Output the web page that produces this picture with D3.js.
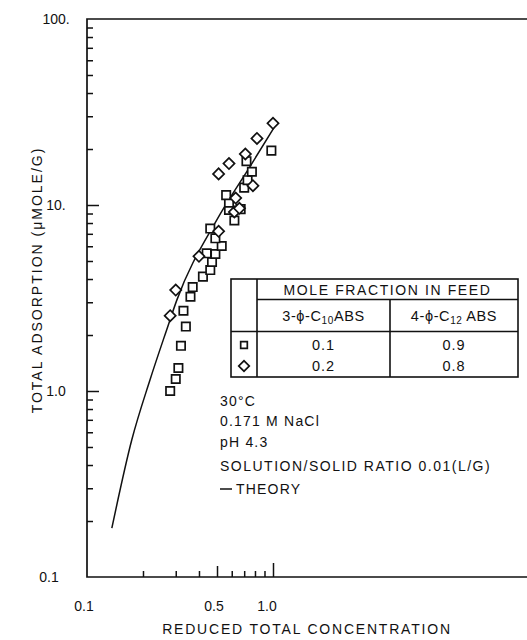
<!DOCTYPE html>
<html>
<head>
<meta charset="utf-8">
<script src="https://cdn.jsdelivr.net/npm/d3@7"></script>
<style>
  body { margin: 0; background: #fff; }
  text { font-family: "Liberation Sans", Arial, sans-serif; fill: #111; }
</style>
</head>
<body>
<div id="chart"></div>
<script>
// Data: [reduced total concentration, total adsorption]
const squares = [
  [0.28, 1.0], [0.30, 1.16], [0.31, 1.33], [0.32, 1.75], [0.34, 2.22],
  [0.33, 2.70], [0.36, 3.21], [0.37, 3.62], [0.42, 4.12], [0.46, 4.47],
  [0.47, 4.94], [0.44, 5.50], [0.49, 5.45], [0.53, 6.02], [0.49, 6.62],
  [0.46, 7.47], [0.62, 8.25], [0.58, 9.4], [0.67, 9.5], [0.58, 10.3],
  [0.56, 11.3], [0.70, 12.4], [0.73, 13.6], [0.77, 15.1], [0.72, 17.2],
  [0.98, 19.6]
];
const diamonds = [
  [0.28, 2.54], [0.30, 3.49], [0.40, 5.30], [0.51, 7.22], [0.62, 9.17],
  [0.66, 9.6], [0.63, 10.9], [0.78, 12.7], [0.51, 14.7], [0.58, 16.7],
  [0.71, 18.8], [0.82, 22.8], [1.0, 27.5]
];
const theory = [
  [0.136, 0.183], [0.174, 0.545], [0.218, 1.146], [0.268, 2.13],
  [0.304, 3.08], [0.498, 8.30], [0.752, 16.1], [1.05, 27.6]
];

const yMajor = [0.1, 1, 10, 100];
const yLabels = ["0.1", "1.0", "10.", "100."];
const xLabelValues = [0.1, 0.5, 1.0];
const xLabels = ["0.1", "0.5", "1.0"];
const xMinor = [0.2, 0.3, 0.4, 0.6, 0.7, 0.8, 0.9];

const legendHeader = "MOLE FRACTION IN FEED";
const legendRows = [["0.1", "0.9"], ["0.2", "0.8"]];
const notes = ["30°C", "0.171 M NaCl", "pH 4.3", "SOLUTION/SOLID RATIO 0.01(L/G)"];

const W = 527, H = 640;
const svg = d3.select("#chart").append("svg").attr("width", W).attr("height", H);

const x = d3.scaleLog().domain([0.1, 100]).range([87, 645]);
const y = d3.scaleLog().domain([0.1, 100]).range([577, 19]);

// frame (top, left, bottom)
svg.append("path")
  .attr("d", `M${W},${y(100)}H${x(0.1)}V${y(0.1)}H${W}`)
  .attr("fill", "none").attr("stroke", "#111").attr("stroke-width", 1.7);

// y ticks (inside)
const yMinor = [];
[0.1, 1, 10].forEach(d => { for (let k = 2; k <= 9; k++) yMinor.push(d * k); });
svg.append("g").attr("transform", `translate(${x(0.1)},0)`)
  .call(d3.axisRight(y).tickValues(yMinor).tickSize(6).tickFormat(""))
  .call(g => g.select(".domain").remove());
svg.append("g").attr("transform", `translate(${x(0.1)},0)`)
  .call(d3.axisRight(y).tickValues([1, 10]).tickSize(12).tickFormat(""))
  .call(g => g.select(".domain").remove());
svg.selectAll(".tick line").attr("stroke", "#111").attr("stroke-width", 1.5);

// x ticks (inside)
const xg = svg.append("g").attr("transform", `translate(0,${y(0.1)})`);
xg.append("g").call(d3.axisTop(x).tickValues(xMinor).tickSize(6).tickFormat(""));
xg.append("g").call(d3.axisTop(x).tickValues([0.5]).tickSize(11).tickFormat(""));
xg.append("g").call(d3.axisTop(x).tickValues([1.0]).tickSize(14).tickFormat(""));
xg.selectAll(".domain").remove();
xg.selectAll(".tick line").attr("stroke", "#111").attr("stroke-width", 1.5);

// tick labels
svg.selectAll(".ylab").data(yMajor).enter().append("text")
  .attr("x", (d, i) => i === 0 ? 49 : 56)
  .attr("y", d => y(d) + 5)
  .attr("text-anchor", "middle").attr("font-size", 14)
  .text((d, i) => yLabels[i]);
svg.selectAll(".xlab").data(xLabelValues).enter().append("text")
  .attr("x", (d, i) => x(d) - (i === 2 ? 6 : 3))
  .attr("y", 611)
  .attr("text-anchor", "middle").attr("font-size", 14)
  .text((d, i) => xLabels[i]);

// axis titles
svg.append("text")
  .attr("transform", `translate(42,280) rotate(-90)`)
  .attr("text-anchor", "middle").attr("font-size", 14).attr("letter-spacing", 2)
  .text("TOTAL ADSORPTION (μMOLE/G)");
svg.append("text")
  .attr("x", 307).attr("y", 634)
  .attr("text-anchor", "middle").attr("font-size", 14).attr("letter-spacing", 1.8)
  .text("REDUCED TOTAL CONCENTRATION");

// theory line
svg.append("path").datum(theory)
  .attr("d", d3.line().x(d => x(d[0])).y(d => y(d[1])).curve(d3.curveMonotoneX))
  .attr("fill", "none").attr("stroke", "#111").attr("stroke-width", 1.5);

// markers
const sq = d3.symbol().type(d3.symbolSquare).size(70);
const dm = d3.symbol().type(d3.symbolSquare).size(62);
svg.selectAll(".sq").data(squares).enter().append("path")
  .attr("d", sq)
  .attr("transform", d => `translate(${x(d[0])},${y(d[1])})`)
  .attr("fill", "#fff").attr("stroke", "#111").attr("stroke-width", 1.7);
svg.selectAll(".dm").data(diamonds).enter().append("path")
  .attr("d", dm)
  .attr("transform", d => `translate(${x(d[0])},${y(d[1])}) rotate(45)`)
  .attr("fill", "#fff").attr("stroke", "#111").attr("stroke-width", 1.7);

// legend table
const T = { l: 231, c1: 257, c2: 390, r: 518, t: 279, h1: 299.5, h2: 331.5, b: 377 };
const lg = svg.append("g").attr("stroke", "#111").attr("stroke-width", 1.6).attr("fill", "none");
lg.append("rect").attr("x", T.l).attr("y", T.t).attr("width", T.r - T.l).attr("height", T.b - T.t).attr("fill", "#fff");
lg.append("line").attr("x1", T.c1).attr("x2", T.c1).attr("y1", T.t).attr("y2", T.b);
lg.append("line").attr("x1", T.c2).attr("x2", T.c2).attr("y1", T.h1).attr("y2", T.b);
lg.append("line").attr("x1", T.c1).attr("x2", T.r).attr("y1", T.h1).attr("y2", T.h1);
lg.append("line").attr("x1", T.l).attr("x2", T.r).attr("y1", T.h2).attr("y2", T.h2);

svg.append("text").attr("x", (T.c1 + T.r) / 2).attr("y", 295)
  .attr("text-anchor", "middle").attr("font-size", 14).attr("letter-spacing", 1.6)
  .text(legendHeader);

function compound(cx, prefix, sub, suffix) {
  const t = svg.append("text").attr("x", cx).attr("y", 321)
    .attr("text-anchor", "middle").attr("font-size", 14.5).attr("letter-spacing", 0.6);
  t.append("tspan").text(prefix);
  t.append("tspan").attr("font-size", 10).attr("dy", 3).text(sub);
  t.append("tspan").attr("dy", -3).text(suffix);
}
compound((T.c1 + T.c2) / 2, "3-ϕ-C", "10", "ABS");
compound((T.c2 + T.r) / 2, "4-ϕ-C", "12", " ABS");

const rowY = [345, 366];
legendRows.forEach((r, i) => {
  svg.append("text").attr("x", (T.c1 + T.c2) / 2).attr("y", rowY[i] + 5)
    .attr("text-anchor", "middle").attr("font-size", 14.5).attr("letter-spacing", 1).text(r[0]);
  svg.append("text").attr("x", (T.c2 + T.r) / 2).attr("y", rowY[i] + 5)
    .attr("text-anchor", "middle").attr("font-size", 14.5).attr("letter-spacing", 1).text(r[1]);
});
svg.append("path").attr("d", d3.symbol().type(d3.symbolSquare).size(44))
  .attr("transform", `translate(244,${rowY[0]})`)
  .attr("fill", "#fff").attr("stroke", "#111").attr("stroke-width", 1.7);
svg.append("path").attr("d", d3.symbol().type(d3.symbolSquare).size(56))
  .attr("transform", `translate(244,${rowY[1]}) rotate(45)`)
  .attr("fill", "#fff").attr("stroke", "#111").attr("stroke-width", 1.7);

// notes
const noteY = [401, 421, 442, 466];
notes.forEach((s, i) => {
  svg.append("text").attr("x", 220).attr("y", noteY[i] + 5)
    .attr("font-size", 14).attr("letter-spacing", i === 3 ? 1.5 : 1.2).text(s);
});
svg.append("line").attr("x1", 220).attr("x2", 232).attr("y1", 489).attr("y2", 489)
  .attr("stroke", "#111").attr("stroke-width", 1.5);
svg.append("text").attr("x", 236).attr("y", 494)
  .attr("font-size", 14).attr("letter-spacing", 1.2).text("THEORY");
</script>
</body>
</html>
